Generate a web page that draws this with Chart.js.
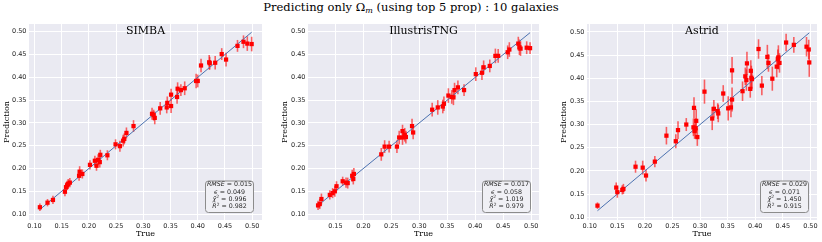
<!DOCTYPE html>
<html>
<head>
<meta charset="utf-8">
<script src="https://cdn.jsdelivr.net/npm/chart.js@4.4.0/dist/chart.umd.min.js"></script>
<style>
  body { margin: 0; width: 822px; height: 242px; background: #fff; position: relative; overflow: hidden; }
  #title { position: absolute; left: 0; top: 0; width: 822px; text-align: center; font-family: 'DejaVu Serif'; font-size: 11.5px; color: #000; white-space: nowrap; }
  #title i { font-size: 8px; position: relative; top: 2px; }
  canvas { position: absolute; top: 0; }
</style>
</head>
<body>
<div id="title">Predicting only Ω<i>m</i> (using top 5 prop) : 10 galaxies</div>
<canvas id="c1" width="270" height="242" style="left:0px"></canvas>
<canvas id="c2" width="275" height="242" style="left:272px"></canvas>
<canvas id="c3" width="272" height="242" style="left:550px"></canvas>
<script>
// --- data ---
const simbaTrue = [0.110, 0.124, 0.134, 0.156, 0.158, 0.160, 0.162, 0.165, 0.182, 0.183, 0.188, 0.202,
  0.211, 0.214, 0.217, 0.220, 0.221, 0.234, 0.249, 0.257, 0.263, 0.265, 0.269, 0.282, 0.316, 0.319,
  0.321, 0.331, 0.343, 0.344, 0.351, 0.351, 0.362, 0.363, 0.369, 0.376, 0.397, 0.400, 0.406, 0.421,
  0.422, 0.432, 0.444, 0.452, 0.473, 0.484, 0.491, 0.499];
const simbaPred = [0.115, 0.125, 0.131, 0.149, 0.159, 0.163, 0.166, 0.169, 0.184, 0.193, 0.188, 0.208,
  0.217, 0.206, 0.219, 0.214, 0.230, 0.229, 0.253, 0.249, 0.261, 0.265, 0.278, 0.293, 0.320, 0.317,
  0.311, 0.332, 0.334, 0.344, 0.362, 0.337, 0.357, 0.375, 0.372, 0.376, 0.392, 0.392, 0.426, 0.433,
  0.431, 0.432, 0.451, 0.439, 0.469, 0.478, 0.474, 0.473];
const simbaErr = [0.008, 0.008, 0.009, 0.010, 0.011, 0.010, 0.011, 0.010, 0.011, 0.012, 0.010, 0.010,
  0.011, 0.011, 0.012, 0.012, 0.011, 0.011, 0.011, 0.012, 0.013, 0.012, 0.012, 0.013, 0.013, 0.012,
  0.014, 0.014, 0.013, 0.014, 0.013, 0.015, 0.015, 0.014, 0.013, 0.015, 0.016, 0.014, 0.015, 0.016,
  0.014, 0.015, 0.013, 0.015, 0.013, 0.014, 0.016, 0.016];

const tngTrue = [0.119, 0.122, 0.125, 0.140, 0.145, 0.149, 0.152, 0.163, 0.169, 0.172, 0.180, 0.182,
  0.183, 0.232, 0.238, 0.246, 0.260, 0.264, 0.270, 0.270, 0.274, 0.276, 0.287, 0.289, 0.323, 0.333,
  0.342, 0.344, 0.352, 0.358, 0.361, 0.363, 0.369, 0.380, 0.401, 0.412, 0.415, 0.426, 0.436, 0.441,
  0.458, 0.461, 0.477, 0.479, 0.481, 0.492, 0.498];
const tngPred = [0.119, 0.122, 0.133, 0.142, 0.146, 0.150, 0.161, 0.172, 0.169, 0.168, 0.184, 0.177,
  0.188, 0.231, 0.248, 0.248, 0.248, 0.268, 0.282, 0.268, 0.274, 0.269, 0.293, 0.279, 0.329, 0.334,
  0.336, 0.342, 0.360, 0.357, 0.356, 0.372, 0.378, 0.372, 0.407, 0.410, 0.422, 0.425, 0.447, 0.447,
  0.455, 0.461, 0.474, 0.466, 0.463, 0.465, 0.464];
const tngErr = [0.010, 0.011, 0.012, 0.010, 0.011, 0.012, 0.011, 0.010, 0.011, 0.012, 0.013, 0.012,
  0.013, 0.014, 0.014, 0.013, 0.014, 0.015, 0.014, 0.016, 0.015, 0.014, 0.016, 0.015, 0.015, 0.016,
  0.015, 0.016, 0.016, 0.015, 0.017, 0.016, 0.015, 0.013, 0.015, 0.016, 0.015, 0.014, 0.016, 0.015,
  0.015, 0.016, 0.015, 0.017, 0.016, 0.014, 0.013];

const astridTrue = [0.114, 0.148, 0.150, 0.159, 0.161, 0.183, 0.196, 0.202, 0.218, 0.239, 0.256, 0.260,
  0.275, 0.288, 0.289, 0.290, 0.292, 0.293, 0.295, 0.308, 0.322, 0.325, 0.332, 0.333, 0.342, 0.351,
  0.356, 0.358, 0.358, 0.377, 0.382, 0.384, 0.385, 0.391, 0.392, 0.393, 0.394, 0.406, 0.412, 0.422,
  0.424, 0.431, 0.439, 0.441, 0.442, 0.444, 0.456, 0.470, 0.493, 0.497, 0.498];
const astridPred = [0.125, 0.164, 0.154, 0.159, 0.161, 0.209, 0.207, 0.190, 0.220, 0.276, 0.264, 0.288,
  0.300, 0.294, 0.336, 0.286, 0.292, 0.308, 0.273, 0.371, 0.313, 0.334, 0.329, 0.324, 0.367, 0.335,
  0.337, 0.354, 0.417, 0.372, 0.404, 0.396, 0.432, 0.377, 0.416, 0.401, 0.398, 0.463, 0.384, 0.446,
  0.433, 0.399, 0.425, 0.441, 0.445, 0.433, 0.477, 0.472, 0.468, 0.462, 0.434];
const astridErr = [0.007, 0.011, 0.012, 0.010, 0.011, 0.013, 0.015, 0.013, 0.012, 0.019, 0.015, 0.019,
  0.014, 0.019, 0.023, 0.017, 0.021, 0.025, 0.019, 0.026, 0.025, 0.019, 0.017, 0.019, 0.018, 0.026,
  0.021, 0.026, 0.029, 0.021, 0.019, 0.023, 0.025, 0.019, 0.023, 0.026, 0.021, 0.021, 0.021, 0.026,
  0.019, 0.026, 0.023, 0.021, 0.026, 0.021, 0.019, 0.017, 0.021, 0.021, 0.031];

const panelNames = ['SIMBA', 'IllustrisTNG', 'Astrid'];
const rmse = ['0.015', '0.017', '0.029'];
const eps = ['0.049', '0.058', '0.071'];
const chi2 = ['0.996', '1.019', '1.450'];
const r2 = ['0.982', '0.979', '0.915'];

const simbaXTicks = [0.10, 0.15, 0.20, 0.25, 0.30, 0.35, 0.40, 0.45, 0.50];
const tngXTicks = [0.15, 0.20, 0.25, 0.30, 0.35, 0.40, 0.45, 0.50];
const astridXTicks = [0.10, 0.15, 0.20, 0.25, 0.30, 0.35, 0.40, 0.45, 0.50];
const yTicks = [0.10, 0.15, 0.20, 0.25, 0.30, 0.35, 0.40, 0.45, 0.50];

const TICK_COLOR = '#262626';
const SANS = "'DejaVu Sans'";
const SERIF = "'DejaVu Serif'";

const bgPlugin = {
  id: 'bg',
  beforeDraw(chart) {
    const { ctx, chartArea: a } = chart;
    ctx.save();
    ctx.fillStyle = '#EAEAF2';
    ctx.fillRect(a.left, a.top, a.right - a.left, a.bottom - a.top);
    ctx.restore();
  }
};

const errPlugin = {
  id: 'errbars',
  beforeDatasetsDraw(chart) {
    const ctx = chart.ctx, ys = chart.scales.y;
    chart.data.datasets.forEach((ds, di) => {
      if (!ds.errors) return;
      const meta = chart.getDatasetMeta(di);
      ctx.save();
      ctx.strokeStyle = 'rgba(255,0,0,0.6)';
      ctx.lineWidth = 1.6;
      meta.data.forEach((pt, i) => {
        const v = ds.data[i].y, e = ds.errors[i];
        ctx.beginPath();
        ctx.moveTo(pt.x, ys.getPixelForValue(v - e));
        ctx.lineTo(pt.x, ys.getPixelForValue(v + e));
        ctx.stroke();
      });
      ctx.restore();
    });
  }
};

function drawRich(ctx, segs, cx, cy, size) {
  let w = 0;
  segs.forEach(s => {
    const sz = s.sup ? size * 0.7 : size;
    s.f = (s.it ? 'italic ' : '') + sz + 'px ' + SANS;
    ctx.font = s.f;
    s.w = ctx.measureText(s.t).width;
    w += s.w;
  });
  let x = cx - w / 2;
  segs.forEach(s => {
    ctx.font = s.f;
    ctx.fillText(s.t, x, cy - (s.sup ? size * 0.35 : 0));
    x += s.w;
  });
}

const infoPlugin = {
  id: 'info',
  afterDraw(chart, args, opts) {
    const { ctx, chartArea: a } = chart;
    ctx.save();
    // panel title
    ctx.fillStyle = '#000';
    ctx.font = '11px ' + SERIF;
    ctx.textAlign = 'center';
    ctx.textBaseline = 'middle';
    ctx.fillText(opts.name, (a.left + a.right) / 2, a.top + 7.5);
    // stats box
    const bw = 48, bh = 31.5;
    const bx = a.right - 9 - bw, by = a.bottom - 8 - bh;
    ctx.beginPath();
    ctx.roundRect(bx + 0.5, by + 0.5, bw, bh, 3);
    ctx.fillStyle = '#F0F0F5';
    ctx.fill();
    ctx.strokeStyle = '#8c8c8c';
    ctx.lineWidth = 1;
    ctx.stroke();
    ctx.fillStyle = TICK_COLOR;
    ctx.textAlign = 'left';
    const cx = bx + bw / 2 + 0.5, sz = 6.3;
    drawRich(ctx, [{ t: 'RMSE', it: true }, { t: ' = ' + opts.rmse }], cx, by + 4.2, sz);
    drawRich(ctx, [{ t: 'ϵ', it: true }, { t: ' = ' + opts.eps }], cx, by + 11.5, sz);
    drawRich(ctx, [{ t: 'χ\u0303', it: true }, { t: '2', sup: true }, { t: ' = ' + opts.chi2 }], cx, by + 18.8, sz);
    drawRich(ctx, [{ t: 'R', it: true }, { t: '2', sup: true }, { t: ' = ' + opts.r2 }], cx, by + 26.1, sz);
    ctx.restore();
  }
};

function makeChart(id, p) {
  const lo = Math.min(...p.tru), hi = Math.max(...p.tru);
  new Chart(document.getElementById(id), {
    type: 'scatter',
    data: {
      datasets: [
        {
          data: p.tru.map((t, i) => ({ x: t, y: p.pred[i] })),
          errors: p.err,
          pointStyle: 'rect',
          pointRadius: 3,
          pointBackgroundColor: '#ff0000',
          pointBorderWidth: 0,
          order: 0
        },
        {
          data: [{ x: lo, y: lo }, { x: hi, y: hi }],
          showLine: true,
          borderColor: '#4C72B0',
          borderWidth: 1,
          pointRadius: 0,
          order: 1
        }
      ]
    },
    options: {
      responsive: false,
      animation: false,
      events: [],
      layout: { padding: { left: 0, top: 24, right: p.padR, bottom: 0 } },
      plugins: {
        legend: { display: false },
        tooltip: { enabled: false },
        info: { name: p.name, rmse: p.rmse, eps: p.eps, chi2: p.chi2, r2: p.r2 }
      },
      scales: {
        x: {
          type: 'linear',
          min: p.xMin, max: p.xMax,
          afterBuildTicks: s => { s.ticks = p.xTicks.map(v => ({ value: v })); },
          afterFit: s => { s.height = 22; },
          ticks: { callback: v => v.toFixed(2), font: { family: SANS, size: 6.5 }, color: TICK_COLOR, padding: 2, maxRotation: 0, autoSkip: false },
          grid: { color: '#ffffff', lineWidth: 1, drawTicks: false },
          border: { display: false },
          title: { display: true, text: 'True', font: { family: SERIF, size: 8 }, color: '#000', padding: { top: 0, bottom: 3 } }
        },
        y: {
          type: 'linear',
          min: p.yMin, max: p.yMax,
          afterBuildTicks: s => { s.ticks = yTicks.map(v => ({ value: v })); },
          afterFit: s => { s.width = p.axisW; },
          ticks: { callback: v => v.toFixed(2), font: { family: SANS, size: 6.5 }, color: TICK_COLOR, padding: 2.5, autoSkip: false },
          grid: { color: '#ffffff', lineWidth: 1, drawTicks: false },
          border: { display: false },
          title: { display: true, text: 'Prediction', font: { family: SERIF, size: 8 }, color: '#000', padding: { top: p.titlePad, bottom: 0 } }
        }
      }
    },
    plugins: [bgPlugin, errPlugin, infoPlugin]
  });
}

makeChart('c1', { tru: simbaTrue, pred: simbaPred, err: simbaErr, xTicks: simbaXTicks,
  xMin: 0.090, xMax: 0.518, yMin: 0.087, yMax: 0.517, axisW: 29, titlePad: 2.2, padR: 8,
  name: panelNames[0], rmse: rmse[0], eps: eps[0], chi2: chi2[0], r2: r2[0] });
makeChart('c2', { tru: tngTrue, pred: tngPred, err: tngErr, xTicks: tngXTicks,
  xMin: 0.101, xMax: 0.514, yMin: 0.087, yMax: 0.517, axisW: 36, titlePad: 8.2, padR: 8,
  name: panelNames[1], rmse: rmse[1], eps: eps[1], chi2: chi2[1], r2: r2[1] });
makeChart('c3', { tru: astridTrue, pred: astridPred, err: astridErr, xTicks: astridXTicks,
  xMin: 0.095, xMax: 0.512, yMin: 0.094, yMax: 0.517, axisW: 37, titlePad: 9.2, padR: 5,
  name: panelNames[2], rmse: rmse[2], eps: eps[2], chi2: chi2[2], r2: r2[2] });
</script>
</body>
</html>
